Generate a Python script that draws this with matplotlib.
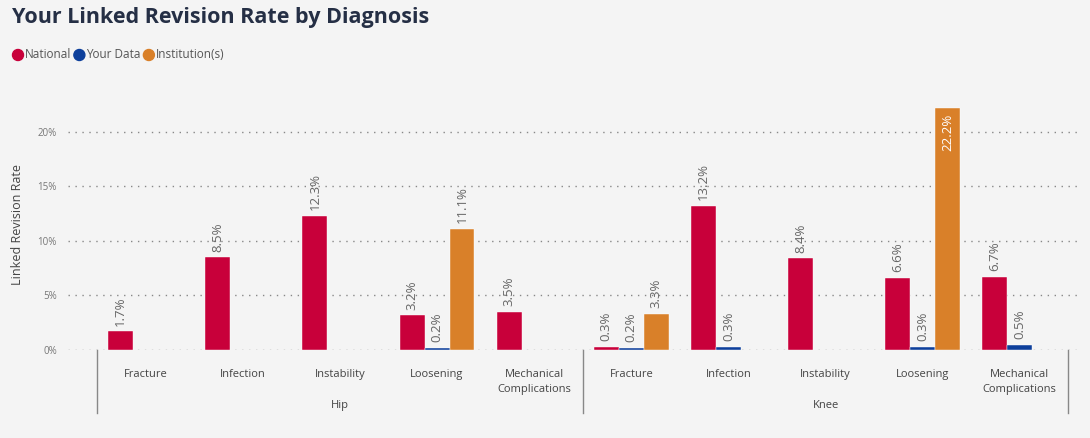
import matplotlib.pyplot as plt
import matplotlib.transforms as mtransforms
from matplotlib.ticker import FuncFormatter, MultipleLocator
import numpy as np

plt.rcParams['font.family'] = ['Open Sans', 'DejaVu Sans']

joints = ['Hip', 'Knee']
diagnoses = ['Fracture', 'Infection', 'Instability', 'Loosening', 'Mechanical\nComplications']

# revision rates in %, hip then knee; nan = no value
national = [1.7, 8.5, 12.3, 3.2, 3.5, 0.3, 13.2, 8.4, 6.6, 6.7]
your_data = [np.nan, np.nan, np.nan, 0.2, np.nan, 0.2, 0.3, np.nan, 0.3, 0.5]
institutions = [np.nan, np.nan, np.nan, 11.1, np.nan, 3.3, np.nan, np.nan, 22.2, np.nan]

series = [
    ('National', national, '#C8003A'),
    ('Your Data', your_data, '#0D3F9B'),
    ('Institution(s)', institutions, '#D98029'),
]

bg = '#F4F4F4'
grey = '#666666'

fig = plt.figure(figsize=(10.9, 4.38), dpi=100, facecolor=bg)
ax = fig.add_axes([68 / 1090, 88 / 438, 1012 / 1090, 251 / 438], facecolor=bg)

n_cat = len(joints) * len(diagnoses)
x = np.arange(n_cat)
width = 0.257
offsets = [-width, 0, width]

for (name, vals, color), off in zip(series, offsets):
    vals = np.array(vals, dtype=float)
    ax.bar(x + off, vals, width=width, color=color, edgecolor='white', linewidth=0.3)
    for xi, v in zip(x + off, vals):
        if np.isnan(v):
            continue
        if v > 20:
            ax.annotate(f'{v:.1f}%', (xi, v), xytext=(0, -4), textcoords='offset points',
                        rotation=90, ha='center', va='top', color='white', fontsize=9.5)
        else:
            ax.annotate(f'{v:.1f}%', (xi, v), xytext=(0, 4), textcoords='offset points',
                        rotation=90, ha='center', va='bottom', color=grey, fontsize=9.5)

ax.set_xlim(-0.8, n_cat - 0.5 + 0.12)
ax.set_ylim(0, 23)
ax.yaxis.set_major_locator(MultipleLocator(5))
ax.yaxis.set_major_formatter(FuncFormatter(lambda v, p: f'{v:.0f}%'))
ax.grid(axis='y', linestyle=(0, (1, 4)), color='#888888', linewidth=1)
ax.set_axisbelow(True)
for s in ax.spines.values():
    s.set_visible(False)

ax.set_xticks(x)
ax.set_xticklabels(diagnoses * len(joints), fontsize=8, color='#444444', linespacing=1.5)
ax.tick_params(axis='x', length=0, pad=14)
ax.tick_params(axis='y', length=0, labelsize=7, labelcolor='#777777', pad=8)
ax.set_ylabel('Linked Revision Rate', fontsize=9, color='#444444', labelpad=10)

# joint group labels and separators under the axis
trans = mtransforms.blended_transform_factory(ax.transData, ax.transAxes)
for i, joint in enumerate(joints):
    start = i * len(diagnoses) - 0.5
    ax.text(start + len(diagnoses) / 2, -0.22, joint, transform=trans,
            ha='center', va='center', fontsize=8, color='#444444')
for b in range(len(joints) + 1):
    xb = b * len(diagnoses) - 0.5
    ax.plot([xb, xb], [0, -0.25], transform=trans, color='#888888', lw=1, clip_on=False)

fig.text(12 / 1090, 1 - 18 / 438, 'Your Linked Revision Rate by Diagnosis', fontsize=15.5,
         fontweight='bold', color='#252F45', va='center', ha='left')

# legend row
lx = 12
for name, _, color in series:
    fig.patches.append(plt.Circle((lx + 6, 438 - 55), 5.5, transform=None, color=color,
                                  figure=fig))
    t = fig.text((lx + 13) / 1090, 1 - 55 / 438, name, fontsize=8.5, color='#555555',
                 va='center', ha='left')
    fig.canvas.draw()
    bb = t.get_window_extent()
    lx = bb.x1 + 2

fig.savefig('out.png', dpi=100, facecolor=bg)
